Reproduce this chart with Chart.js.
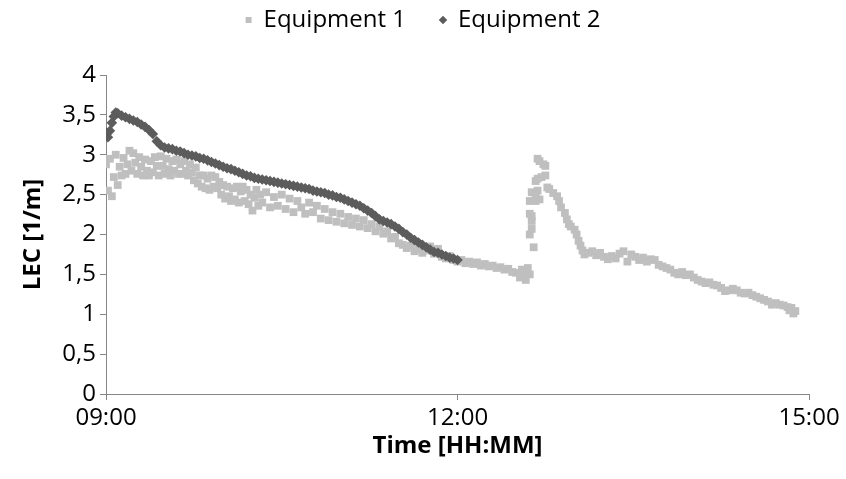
<!DOCTYPE html>
<html>
<head>
<meta charset="utf-8">
<script src="https://cdn.jsdelivr.net/npm/chart.js@4.4.1/dist/chart.umd.min.js"></script>
<style>
  html, body { margin: 0; padding: 0; background: #fff; }
  #wrap { width: 846px; height: 479px; }
</style>
</head>
<body>
<div id="wrap"><canvas id="chart"></canvas></div>
<script>
// tick labels
const xTickLabels = ['09:00', '12:00', '15:00'];
const yTickLabels = ['0', '0,5', '1', '1,5', '2', '2,5', '3', '3,5', '4'];

// Equipment 1 (light squares)
const eq1Time = [
  '09:00','09:01','09:02','09:03','09:04','09:05','09:06','09:07','09:08','09:09',
  '09:10','09:11','09:12','09:13','09:14','09:15','09:16','09:17','09:18','09:19',
  '09:20','09:21','09:22','09:23','09:24','09:25','09:26','09:27','09:28','09:29',
  '09:30','09:31','09:32','09:33','09:34','09:35','09:36','09:37','09:38','09:39',
  '09:40','09:41','09:42','09:43','09:44','09:45','09:46','09:47','09:48','09:49',
  '09:50','09:51','09:52','09:53','09:54','09:55','09:56','09:57','09:58','09:59',
  '10:00','10:01','10:02','10:03','10:04','10:05','10:06','10:07','10:08','10:09',
  '10:10','10:11','10:12','10:13','10:14','10:15','10:16','10:17','10:18','10:19',
  '10:20','10:22','10:24','10:26','10:28','10:30','10:32','10:34','10:36','10:38',
  '10:40','10:42','10:44','10:46','10:48','10:50','10:52','10:54','10:56','10:58',
  '11:00','11:02','11:04','11:06','11:08','11:10','11:12','11:14','11:16','11:18',
  '11:20','11:22','11:24','11:26','11:28','11:30','11:32','11:34','11:36','11:38',
  '11:40','11:42','11:44','11:46','11:48','11:50','11:52','11:54','11:56','11:58',
  '12:00','12:02','12:04','12:06','12:08','12:10','12:12','12:14','12:16','12:18',
  '12:20','12:22','12:24','12:26','12:28','12:30','12:32','12:33','12:34','12:35',
  '12:36','12:37','12:37','12:37','12:37','12:38','12:38','12:38','12:38','12:39',
  '12:40','12:40','12:40','12:41','12:41','12:41','12:42','12:42','12:43','12:44',
  '12:45','12:45','12:46','12:47','12:49','12:51','12:52','12:53','12:55','12:56',
  '12:57','12:58','13:00','13:01','13:02','13:03','13:04','13:05','13:07','13:09',
  '13:11','13:13','13:15','13:17','13:19','13:21','13:23','13:25','13:27','13:29',
  '13:31','13:33','13:35','13:37','13:39','13:41','13:43','13:45','13:47','13:49',
  '13:51','13:53','13:55','13:57','13:59','14:01','14:03','14:05','14:07','14:09',
  '14:11','14:13','14:15','14:17','14:19','14:21','14:23','14:25','14:27','14:29',
  '14:31','14:33','14:35','14:37','14:39','14:41','14:43','14:45','14:47','14:49',
  '14:50','14:51','14:52','14:53'
];
const eq1LEC = [
  2.88, 2.55, 2.95, 2.48, 2.72, 3.00, 2.62, 2.85, 2.74, 2.96,
  2.76, 2.88, 3.05, 2.80, 3.02, 2.90, 2.76, 2.97, 2.85, 2.74,
  2.94, 2.80, 2.74, 2.92, 2.78, 2.97, 2.86, 2.74, 2.98, 2.86,
  2.76, 2.95, 2.82, 2.74, 2.92, 2.80, 2.94, 2.76, 2.88, 2.76,
  2.92, 2.80, 2.74, 2.88, 2.78, 2.68, 2.84, 2.64, 2.74, 2.60,
  2.74, 2.58, 2.70, 2.56, 2.74, 2.60, 2.72, 2.58, 2.66, 2.50,
  2.62, 2.45, 2.60, 2.48, 2.42, 2.58, 2.44, 2.60, 2.40, 2.54,
  2.60, 2.42, 2.56, 2.38, 2.50, 2.30, 2.46, 2.56, 2.36, 2.50,
  2.40, 2.53, 2.34, 2.47, 2.36, 2.50, 2.32, 2.45, 2.28, 2.42,
  2.34, 2.26, 2.40, 2.28, 2.36, 2.20, 2.32, 2.18, 2.28, 2.16,
  2.26, 2.14, 2.22, 2.12, 2.20, 2.10, 2.18, 2.08, 2.13, 2.04,
  2.10, 2.01, 2.04, 1.95, 1.97, 1.89, 1.87, 1.83, 1.86, 1.79,
  1.82, 1.77, 1.80, 1.85, 1.76, 1.82, 1.72, 1.70, 1.73, 1.68,
  1.66, 1.68, 1.64, 1.66, 1.63, 1.65, 1.61, 1.63, 1.60, 1.61,
  1.58, 1.59, 1.56, 1.57, 1.53, 1.52, 1.46, 1.56, 1.50, 1.43,
  1.58, 1.50, 2.00, 2.26, 2.42, 2.07, 2.17, 2.23, 2.53, 1.84,
  2.42, 2.48, 2.67, 2.55, 2.70, 2.95, 2.44, 2.92, 2.72, 2.88,
  2.74, 2.86, 2.59, 2.57, 2.52, 2.48, 2.42, 2.34, 2.27, 2.19,
  2.13, 2.10, 2.06, 2.00, 1.92, 1.86, 1.80, 1.75, 1.77, 1.79,
  1.74, 1.77, 1.72, 1.69, 1.73, 1.70, 1.76, 1.79, 1.66, 1.75,
  1.72, 1.68, 1.71, 1.66, 1.69, 1.68, 1.62, 1.60, 1.58, 1.56,
  1.52, 1.50, 1.53, 1.49, 1.50, 1.46, 1.43, 1.41, 1.39, 1.40,
  1.37, 1.36, 1.33, 1.29, 1.30, 1.32, 1.30, 1.27, 1.26, 1.27,
  1.24, 1.22, 1.20, 1.18, 1.16, 1.12, 1.14, 1.12, 1.11, 1.09,
  1.05, 1.08, 1.01, 1.04
];

// Equipment 2 (dark diamonds)
const eq2Time = [
  '09:00','09:01','09:02','09:03','09:04','09:05','09:06','09:08','09:10','09:12',
  '09:14','09:16','09:18','09:20','09:22','09:24','09:26','09:28','09:30','09:32',
  '09:34','09:36','09:38','09:40','09:42','09:44','09:46','09:48','09:50','09:52',
  '09:54','09:56','09:58','10:00','10:02','10:04','10:06','10:08','10:10','10:12',
  '10:14','10:16','10:18','10:20','10:22','10:24','10:26','10:28','10:30','10:32',
  '10:34','10:36','10:38','10:40','10:42','10:44','10:46','10:48','10:50','10:52',
  '10:54','10:56','10:58','11:00','11:02','11:04','11:06','11:08','11:10','11:12',
  '11:14','11:16','11:18','11:20','11:22','11:24','11:26','11:28','11:30','11:32',
  '11:34','11:36','11:38','11:40','11:42','11:44','11:46','11:48','11:50','11:52',
  '11:54','11:56','11:58','12:00'
];
const eq2LEC = [
  3.28, 3.22, 3.30, 3.40, 3.48, 3.53, 3.52, 3.49, 3.47, 3.45,
  3.43, 3.41, 3.38, 3.35, 3.31, 3.26, 3.17, 3.12, 3.09, 3.08,
  3.07, 3.05, 3.04, 3.02, 3.00, 2.99, 2.98, 2.96, 2.95, 2.93,
  2.91, 2.89, 2.87, 2.85, 2.83, 2.82, 2.80, 2.78, 2.76, 2.74,
  2.73, 2.71, 2.70, 2.69, 2.68, 2.67, 2.66, 2.65, 2.64, 2.63,
  2.62, 2.61, 2.60, 2.59, 2.58, 2.57, 2.55, 2.54, 2.53, 2.52,
  2.50, 2.49, 2.47, 2.46, 2.44, 2.42, 2.40, 2.38, 2.36, 2.33,
  2.30, 2.27, 2.23, 2.19, 2.17, 2.15, 2.13, 2.10, 2.07, 2.03,
  2.00, 1.96, 1.93, 1.90, 1.87, 1.84, 1.81, 1.78, 1.77, 1.75,
  1.73, 1.71, 1.70, 1.68
];

// minutes since 09:00
const toMin = (t) => {
  const [h, m] = t.split(':').map(Number);
  return (h - 9) * 60 + m;
};
const points = (times, vals) => times.map((t, i) => ({ x: toMin(t), y: vals[i] }));

const FONT = "'Open Sans', 'Noto Sans', sans-serif";
const FS = 24;
const AXIS = '#868686';

// extra room between the legend and the plot
const legendGap = {
  id: 'legendGap',
  beforeInit(chart) {
    const fit = chart.legend.fit;
    chart.legend.fit = function () {
      fit.call(this);
      this.height += 33;
    };
  }
};

new Chart(document.getElementById('chart'), {
  type: 'scatter',
  data: {
    datasets: [
      {
        label: 'Equipment 1',
        data: points(eq1Time, eq1LEC),
        pointStyle: 'rect',
        pointRadius: 5.5,
        pointHoverRadius: 5.5,
        backgroundColor: '#BFBFBF',
        borderColor: '#BFBFBF',
        borderWidth: 0,
        order: 1
      },
      {
        label: 'Equipment 2',
        data: points(eq2Time, eq2LEC),
        pointStyle: 'rectRot',
        pointRadius: 5.3,
        pointHoverRadius: 5.3,
        backgroundColor: '#5C5C5C',
        borderColor: '#5C5C5C',
        borderWidth: 0,
        order: 0
      }
    ]
  },
  options: {
    responsive: true,
    maintainAspectRatio: false,
    animation: false,
    layout: { padding: { left: 0, right: 0, top: -26, bottom: 18 } },
    plugins: {
      legend: {
        position: 'top',
        labels: {
          usePointStyle: true,
          boxWidth: 6,
          boxHeight: 6,
          padding: 34,
          color: '#000',
          font: { family: FONT, size: FS },
          sort: (a, b) => a.datasetIndex - b.datasetIndex
        }
      },
      tooltip: { enabled: false }
    },
    scales: {
      x: {
        type: 'linear',
        min: 0,
        max: 360,
        afterBuildTicks: (s) => { s.ticks = [0, 180, 360].map(v => ({ value: v })); },
        afterFit: (s) => { s.height = 67; },
        ticks: {
          color: '#000',
          font: { family: FONT, size: FS },
          padding: 4,
          maxRotation: 0,
          callback: (v) => xTickLabels[v / 180]
        },
        grid: { drawOnChartArea: false, drawTicks: true, tickLength: 6, color: AXIS },
        border: { color: AXIS, width: 1 },
        title: {
          display: true,
          text: 'Time [HH:MM]',
          color: '#000',
          font: { family: FONT, size: FS, weight: 'bold' },
          padding: { top: 0, bottom: 0 }
        }
      },
      y: {
        min: 0,
        max: 4,
        afterFit: (s) => { s.width = 106; },
        ticks: {
          stepSize: 0.5,
          color: '#000',
          font: { family: FONT, size: FS },
          padding: 4,
          callback: (v) => yTickLabels[Math.round(v / 0.5)]
        },
        grid: { drawOnChartArea: false, drawTicks: true, tickLength: 6, color: AXIS },
        border: { color: AXIS, width: 1 },
        title: {
          display: true,
          text: 'LEC [1/m]',
          color: '#000',
          font: { family: FONT, size: FS, weight: 'bold' },
          padding: { top: 19, bottom: 0 }
        }
      },
      // empty right-hand margin so the plot ends at the same place as the reference
      yRight: {
        position: 'right',
        display: true,
        afterFit: (s) => { s.width = 37; },
        ticks: { display: false },
        grid: { display: false },
        border: { display: false }
      }
    }
  },
  plugins: [legendGap]
});
</script>
</body>
</html>
